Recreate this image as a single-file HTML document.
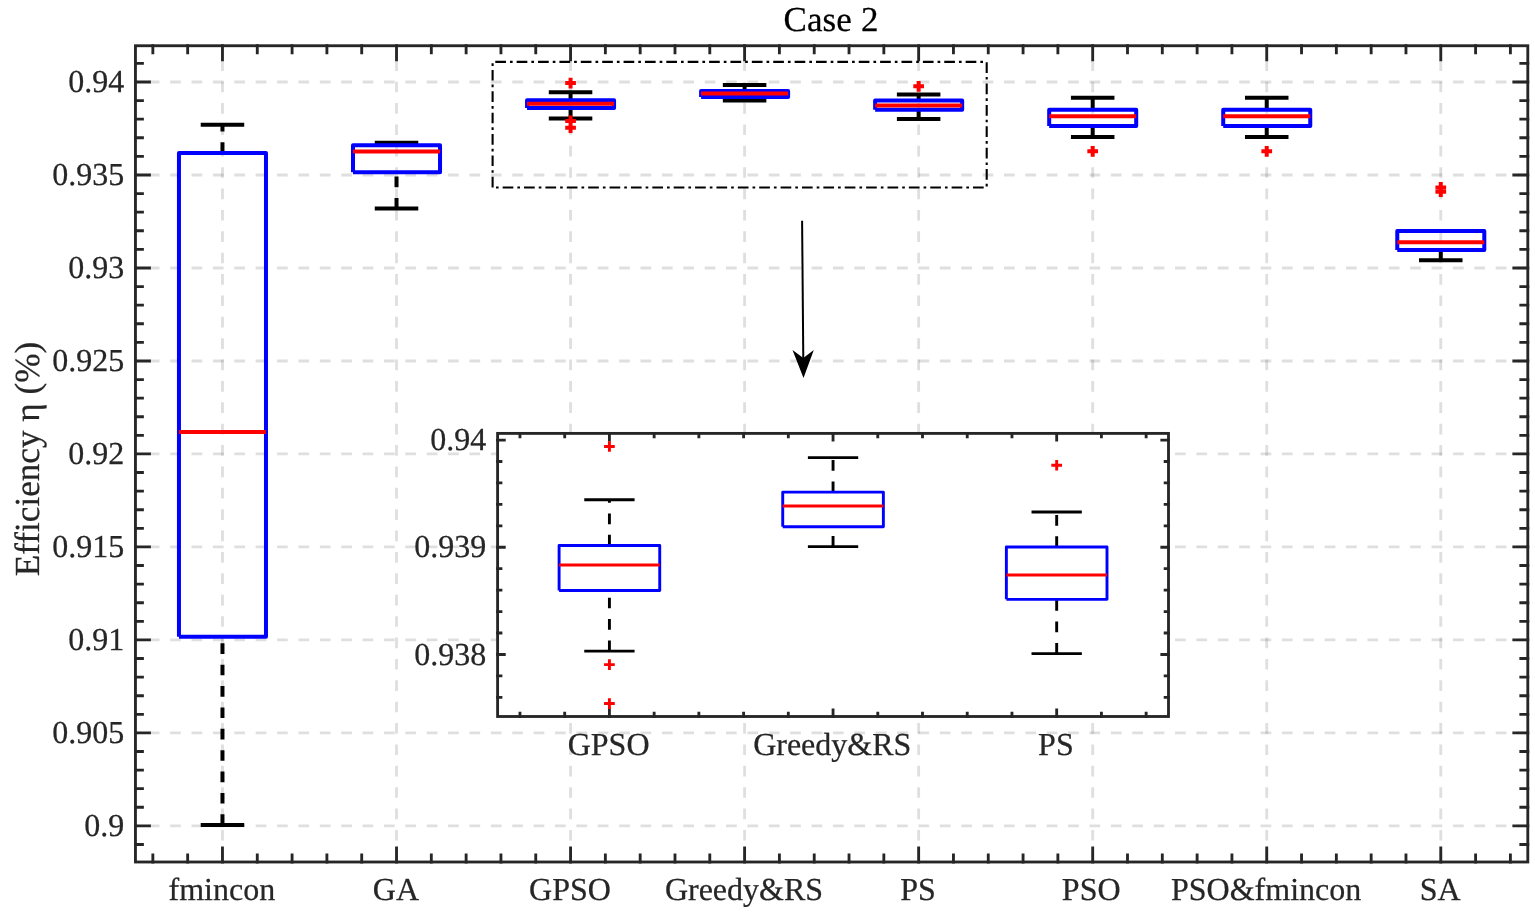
<!DOCTYPE html>
<html lang="en">
<head>
<meta charset="utf-8">
<title>Case 2</title>
<style>
html,body{margin:0;padding:0;background:#fff}
body{width:1535px;height:918px;overflow:hidden}
svg{display:block}
</style>
</head>
<body>
<svg width="1535" height="918" viewBox="0 0 1535 918">
<rect width="1535" height="918" fill="#fff"/>
<g stroke="#262626" stroke-opacity="0.15" stroke-width="2.85" stroke-dasharray="10.69 10.69" fill="none">
<path d="M222.47 862V45.75"/>
<path d="M396.52 862V45.75"/>
<path d="M570.56 862V45.75"/>
<path d="M744.6 862V45.75"/>
<path d="M918.65 862V45.75"/>
<path d="M1092.69 862V45.75"/>
<path d="M1266.73 862V45.75"/>
<path d="M1440.78 862V45.75"/>
<path d="M1527.8 825.88H135.45"/>
<path d="M1527.8 732.89H135.45"/>
<path d="M1527.8 639.91H135.45"/>
<path d="M1527.8 546.92H135.45"/>
<path d="M1527.8 453.94H135.45"/>
<path d="M1527.8 360.95H135.45"/>
<path d="M1527.8 267.97H135.45"/>
<path d="M1527.8 174.98H135.45"/>
<path d="M1527.8 82H135.45"/>
</g>
<g stroke="#262626" stroke-width="2.85" fill="none" stroke-linecap="square">
<path d="M222.47 45.75v14M222.47 862v-14M396.52 45.75v14M396.52 862v-14M570.56 45.75v14M570.56 862v-14M744.6 45.75v14M744.6 862v-14M918.65 45.75v14M918.65 862v-14M1092.69 45.75v14M1092.69 862v-14M1266.73 45.75v14M1266.73 862v-14M1440.78 45.75v14M1440.78 862v-14M152.85 45.75v7M152.85 862v-7M187.66 45.75v7M187.66 862v-7M257.28 45.75v7M257.28 862v-7M292.09 45.75v7M292.09 862v-7M326.9 45.75v7M326.9 862v-7M361.71 45.75v7M361.71 862v-7M431.32 45.75v7M431.32 862v-7M466.13 45.75v7M466.13 862v-7M500.94 45.75v7M500.94 862v-7M535.75 45.75v7M535.75 862v-7M605.37 45.75v7M605.37 862v-7M640.18 45.75v7M640.18 862v-7M674.99 45.75v7M674.99 862v-7M709.79 45.75v7M709.79 862v-7M779.41 45.75v7M779.41 862v-7M814.22 45.75v7M814.22 862v-7M849.03 45.75v7M849.03 862v-7M883.84 45.75v7M883.84 862v-7M953.46 45.75v7M953.46 862v-7M988.26 45.75v7M988.26 862v-7M1023.07 45.75v7M1023.07 862v-7M1057.88 45.75v7M1057.88 862v-7M1127.5 45.75v7M1127.5 862v-7M1162.31 45.75v7M1162.31 862v-7M1197.12 45.75v7M1197.12 862v-7M1231.93 45.75v7M1231.93 862v-7M1301.54 45.75v7M1301.54 862v-7M1336.35 45.75v7M1336.35 862v-7M1371.16 45.75v7M1371.16 862v-7M1405.97 45.75v7M1405.97 862v-7M1475.59 45.75v7M1475.59 862v-7M1510.4 45.75v7M1510.4 862v-7M135.45 825.88h14M1527.8 825.88h-14M135.45 732.89h14M1527.8 732.89h-14M135.45 639.91h14M1527.8 639.91h-14M135.45 546.92h14M1527.8 546.92h-14M135.45 453.94h14M1527.8 453.94h-14M135.45 360.95h14M1527.8 360.95h-14M135.45 267.97h14M1527.8 267.97h-14M135.45 174.98h14M1527.8 174.98h-14M135.45 82h14M1527.8 82h-14M135.45 844.48h7M1527.8 844.48h-7M135.45 807.28h7M1527.8 807.28h-7M135.45 788.69h7M1527.8 788.69h-7M135.45 770.09h7M1527.8 770.09h-7M135.45 751.49h7M1527.8 751.49h-7M135.45 714.3h7M1527.8 714.3h-7M135.45 695.7h7M1527.8 695.7h-7M135.45 677.1h7M1527.8 677.1h-7M135.45 658.51h7M1527.8 658.51h-7M135.45 621.31h7M1527.8 621.31h-7M135.45 602.72h7M1527.8 602.72h-7M135.45 584.12h7M1527.8 584.12h-7M135.45 565.52h7M1527.8 565.52h-7M135.45 528.33h7M1527.8 528.33h-7M135.45 509.73h7M1527.8 509.73h-7M135.45 491.13h7M1527.8 491.13h-7M135.45 472.54h7M1527.8 472.54h-7M135.45 435.34h7M1527.8 435.34h-7M135.45 416.75h7M1527.8 416.75h-7M135.45 398.15h7M1527.8 398.15h-7M135.45 379.55h7M1527.8 379.55h-7M135.45 342.36h7M1527.8 342.36h-7M135.45 323.76h7M1527.8 323.76h-7M135.45 305.16h7M1527.8 305.16h-7M135.45 286.57h7M1527.8 286.57h-7M135.45 249.37h7M1527.8 249.37h-7M135.45 230.78h7M1527.8 230.78h-7M135.45 212.18h7M1527.8 212.18h-7M135.45 193.58h7M1527.8 193.58h-7M135.45 156.39h7M1527.8 156.39h-7M135.45 137.79h7M1527.8 137.79h-7M135.45 119.19h7M1527.8 119.19h-7M135.45 100.6h7M1527.8 100.6h-7M135.45 63.4h7M1527.8 63.4h-7"/>
<rect x="135.45" y="45.75" width="1392.35" height="816.25"/>
</g>
<path d="M222.47 825V636.8M222.47 153V124.7" stroke="#000" stroke-width="4" stroke-dasharray="10.69 10.69" fill="none"/>
<path d="M200.72 825h43.51M200.72 124.7h43.51" stroke="#000" stroke-width="4" fill="none"/>
<path d="M178.96 636.8V153H265.98V636.8H178.96" stroke="#00f" stroke-width="4" fill="none" stroke-linejoin="round"/>
<path d="M178.96 431.9H265.98" stroke="#f00" stroke-width="4" fill="none"/>
<path d="M396.52 208.6V172.3M396.52 145.3V142.7" stroke="#000" stroke-width="4" stroke-dasharray="10.69 10.69" fill="none"/>
<path d="M374.76 208.6h43.51M374.76 142.7h43.51" stroke="#000" stroke-width="4" fill="none"/>
<path d="M353 172.3V145.3H440.03V172.3H353" stroke="#00f" stroke-width="4" fill="none" stroke-linejoin="round"/>
<path d="M353 151.4H440.03" stroke="#f00" stroke-width="4" fill="none"/>
<path d="M570.56 118.62V108.09M570.56 100.3V92.36" stroke="#000" stroke-width="4" stroke-dasharray="10.69 10.69" fill="none"/>
<path d="M548.8 118.62h43.51M548.8 92.36h43.51" stroke="#000" stroke-width="4" fill="none"/>
<path d="M527.05 108.09V100.3H614.07V108.09H527.05" stroke="#00f" stroke-width="4" fill="none" stroke-linejoin="round"/>
<path d="M527.05 103.68H614.07" stroke="#f00" stroke-width="4" fill="none"/>
<path d="M565.21 83.12h10.7M570.56 77.77v10.7M565.21 120.96h10.7M570.56 115.61v10.7M565.21 127.71h10.7M570.56 122.36v10.7" stroke="#f00" stroke-width="4" fill="none"/>
<path d="M744.6 100.49V97.04M744.6 91.04V85.05" stroke="#000" stroke-width="4" stroke-dasharray="10.69 10.69" fill="none"/>
<path d="M722.85 100.49h43.51M722.85 85.05h43.51" stroke="#000" stroke-width="4" fill="none"/>
<path d="M701.09 97.04V91.04H788.11V97.04H701.09" stroke="#00f" stroke-width="4" fill="none" stroke-linejoin="round"/>
<path d="M701.09 93.44H788.11" stroke="#f00" stroke-width="4" fill="none"/>
<path d="M918.65 119.05V109.64M918.65 100.56V94.48" stroke="#000" stroke-width="4" stroke-dasharray="10.69 10.69" fill="none"/>
<path d="M896.89 119.05h43.51M896.89 94.48h43.51" stroke="#000" stroke-width="4" fill="none"/>
<path d="M875.14 109.64V100.56H962.16V109.64H875.14" stroke="#00f" stroke-width="4" fill="none" stroke-linejoin="round"/>
<path d="M875.14 105.41H962.16" stroke="#f00" stroke-width="4" fill="none"/>
<path d="M913.3 86.37h10.7M918.65 81.02v10.7" stroke="#f00" stroke-width="4" fill="none"/>
<path d="M1092.69 137V126.1M1092.69 109.7V97.75" stroke="#000" stroke-width="4" stroke-dasharray="10.69 10.69" fill="none"/>
<path d="M1070.94 137h43.51M1070.94 97.75h43.51" stroke="#000" stroke-width="4" fill="none"/>
<path d="M1049.18 126.1V109.7H1136.2V126.1H1049.18" stroke="#00f" stroke-width="4" fill="none" stroke-linejoin="round"/>
<path d="M1049.18 116.15H1136.2" stroke="#f00" stroke-width="4" fill="none"/>
<path d="M1087.34 151.3h10.7M1092.69 145.95v10.7" stroke="#f00" stroke-width="4" fill="none"/>
<path d="M1266.73 137V126.1M1266.73 109.7V97.75" stroke="#000" stroke-width="4" stroke-dasharray="10.69 10.69" fill="none"/>
<path d="M1244.98 137h43.51M1244.98 97.75h43.51" stroke="#000" stroke-width="4" fill="none"/>
<path d="M1223.22 126.1V109.7H1310.25V126.1H1223.22" stroke="#00f" stroke-width="4" fill="none" stroke-linejoin="round"/>
<path d="M1223.22 116.15H1310.25" stroke="#f00" stroke-width="4" fill="none"/>
<path d="M1261.38 151.3h10.7M1266.73 145.95v10.7" stroke="#f00" stroke-width="4" fill="none"/>
<path d="M1440.78 260.3V250.1M1440.78 231V231" stroke="#000" stroke-width="4" stroke-dasharray="10.69 10.69" fill="none"/>
<path d="M1419.02 260.3h43.51M1419.02 231h43.51" stroke="#000" stroke-width="4" fill="none"/>
<path d="M1397.27 250.1V231H1484.29V250.1H1397.27" stroke="#00f" stroke-width="4" fill="none" stroke-linejoin="round"/>
<path d="M1397.27 242.2H1484.29" stroke="#f00" stroke-width="4" fill="none"/>
<path d="M1435.43 187.4h10.7M1440.78 182.05v10.7M1435.43 191.7h10.7M1440.78 186.35v10.7" stroke="#f00" stroke-width="4" fill="none"/>
<g font-family="'Liberation Serif', serif" font-size="32" fill="#262626" stroke="#262626" stroke-width="0.25" text-rendering="geometricPrecision" style="font-variant-ligatures:none">
<g text-anchor="end">
<text x="124.15" y="835.98">0.9</text>
<text x="124.15" y="742.99">0.905</text>
<text x="124.15" y="650.01">0.91</text>
<text x="124.15" y="557.02">0.915</text>
<text x="124.15" y="464.04">0.92</text>
<text x="124.15" y="371.05">0.925</text>
<text x="124.15" y="278.07">0.93</text>
<text x="124.15" y="185.08">0.935</text>
<text x="124.15" y="92.1">0.94</text>
</g>
<g text-anchor="middle">
<text x="221.87" y="900.4">fmincon</text>
<text x="395.92" y="900.4">GA</text>
<text x="569.96" y="900.4">GPSO</text>
<text x="744" y="900.4">Greedy&amp;RS</text>
<text x="918.05" y="900.4">PS</text>
<text x="1091.19" y="900.4">PSO</text>
<text x="1266.13" y="900.4">PSO&amp;fmincon</text>
<text x="1440.18" y="900.4">SA</text>
</g>
<text font-size="35.2" text-anchor="middle" transform="translate(38.6 459) rotate(-90)">Efficiency η (%)</text>
<text font-size="35" letter-spacing="0.15" text-anchor="middle" fill="#000" stroke="#000" x="831.02" y="30.5">Case 2</text>
</g>
<rect x="497.6" y="433.4" width="670.9" height="283.1" fill="#fff"/>
<g stroke="#262626" stroke-width="2.85" fill="none" stroke-linecap="square">
<path d="M609.42 433.4v6.7M609.42 716.5v-6.7M833.05 433.4v6.7M833.05 716.5v-6.7M1056.68 433.4v6.7M1056.68 716.5v-6.7M519.96 433.4v3.35M519.96 716.5v-3.35M564.69 433.4v3.35M564.69 716.5v-3.35M654.14 433.4v3.35M654.14 716.5v-3.35M698.87 433.4v3.35M698.87 716.5v-3.35M743.6 433.4v3.35M743.6 716.5v-3.35M788.32 433.4v3.35M788.32 716.5v-3.35M877.78 433.4v3.35M877.78 716.5v-3.35M922.5 433.4v3.35M922.5 716.5v-3.35M967.23 433.4v3.35M967.23 716.5v-3.35M1011.96 433.4v3.35M1011.96 716.5v-3.35M1101.41 433.4v3.35M1101.41 716.5v-3.35M1146.14 433.4v3.35M1146.14 716.5v-3.35M497.6 654.45h6.7M1168.5 654.45h-6.7M497.6 547.25h6.7M1168.5 547.25h-6.7M497.6 440.05h6.7M1168.5 440.05h-6.7M497.6 697.33h3.35M1168.5 697.33h-3.35M497.6 675.89h3.35M1168.5 675.89h-3.35M497.6 633.01h3.35M1168.5 633.01h-3.35M497.6 611.57h3.35M1168.5 611.57h-3.35M497.6 590.13h3.35M1168.5 590.13h-3.35M497.6 568.69h3.35M1168.5 568.69h-3.35M497.6 525.81h3.35M1168.5 525.81h-3.35M497.6 504.37h3.35M1168.5 504.37h-3.35M497.6 482.93h3.35M1168.5 482.93h-3.35M497.6 461.49h3.35M1168.5 461.49h-3.35"/>
<rect x="497.6" y="433.4" width="670.9" height="283.1"/>
</g>
<path d="M609.42 651.13V590.45M609.42 545.53V499.76" stroke="#000" stroke-width="2.9" stroke-dasharray="10.69 10.69" fill="none"/>
<path d="M584.26 651.13h50.32M584.26 499.76h50.32" stroke="#000" stroke-width="2.9" fill="none"/>
<path d="M559.1 590.45V545.53H659.73V590.45H559.1" stroke="#00f" stroke-width="2.9" fill="none" stroke-linejoin="round"/>
<path d="M559.1 565.05H659.73" stroke="#f00" stroke-width="2.9" fill="none"/>
<path d="M604.07 446.48h10.7M609.42 441.13v10.7M604.07 664.63h10.7M609.42 659.28v10.7M604.07 703.55h10.7M609.42 698.2v10.7" stroke="#f00" stroke-width="2.9" fill="none"/>
<path d="M833.05 546.61V526.77M833.05 492.15V457.63" stroke="#000" stroke-width="2.9" stroke-dasharray="10.69 10.69" fill="none"/>
<path d="M807.89 546.61h50.32M807.89 457.63h50.32" stroke="#000" stroke-width="2.9" fill="none"/>
<path d="M782.73 526.77V492.15H883.37V526.77H782.73" stroke="#00f" stroke-width="2.9" fill="none" stroke-linejoin="round"/>
<path d="M782.73 505.98H883.37" stroke="#f00" stroke-width="2.9" fill="none"/>
<path d="M1056.68 653.59V599.35M1056.68 547.04V511.98" stroke="#000" stroke-width="2.9" stroke-dasharray="10.69 10.69" fill="none"/>
<path d="M1031.52 653.59h50.32M1031.52 511.98h50.32" stroke="#000" stroke-width="2.9" fill="none"/>
<path d="M1006.37 599.35V547.04H1107V599.35H1006.37" stroke="#00f" stroke-width="2.9" fill="none" stroke-linejoin="round"/>
<path d="M1006.37 575.01H1107" stroke="#f00" stroke-width="2.9" fill="none"/>
<path d="M1051.33 465.24h10.7M1056.68 459.89v10.7" stroke="#f00" stroke-width="2.9" fill="none"/>
<g font-family="'Liberation Serif', serif" font-size="32" fill="#262626" stroke="#262626" stroke-width="0.25" text-rendering="geometricPrecision" style="font-variant-ligatures:none">
<g text-anchor="end">
<text x="486.3" y="450.15">0.94</text>
<text x="486.3" y="557.35">0.939</text>
<text x="486.3" y="664.55">0.938</text>
</g>
<g text-anchor="middle">
<text x="608.62" y="755.1">GPSO</text>
<text x="832.25" y="755.1">Greedy&amp;RS</text>
<text x="1055.88" y="755.1">PS</text>
</g>
</g>
<path d="M492.6 187.5V61.9H986.7V187.5Z" stroke="#000" stroke-width="2.1" fill="none" stroke-dasharray="10.69 4.01 2.67 4.01"/>
<path d="M802.1 220.7L803.3 360" stroke="#000" stroke-width="2" fill="none"/>
<path d="M803.5 378L792.5 349.9L803.3 358.1L813.8 349.9Z" fill="#000"/>
</svg>
</body>
</html>
